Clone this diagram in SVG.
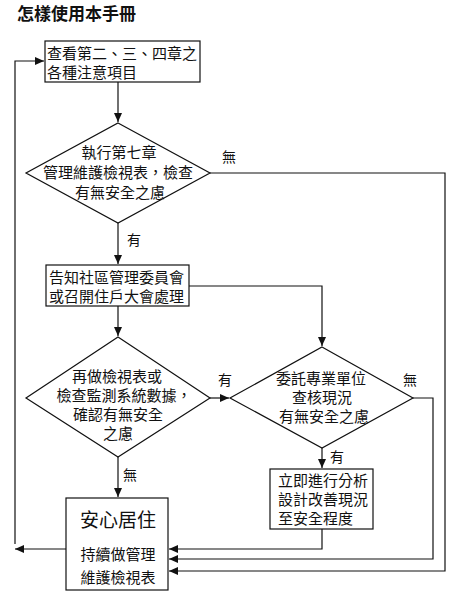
<svg xmlns="http://www.w3.org/2000/svg" width="452" height="594" viewBox="0 0 452 594">
<style>
text{font-family:"Noto Sans CJK TC","Noto Sans CJK SC",sans-serif;fill:#111;font-size:15px}
.title{font-size:17px;font-weight:bold}
.m{text-anchor:middle}
.shape{fill:#fff;stroke:#111;stroke-width:1.2}
.c{fill:none;stroke:#111;stroke-width:1.2}
.lbl{font-size:14px}
</style>
<defs>
<marker id="a" markerUnits="userSpaceOnUse" markerWidth="10" markerHeight="8" refX="9" refY="4" orient="auto">
<path d="M0,0 L9,4 L0,8 z" fill="#111"/>
</marker>
</defs>
<rect width="452" height="594" fill="#fff"/>
<text class="title" x="17" y="20">怎樣使用本手冊</text>
<g id="connectors">
<path class="c" d="M118,82 V122" marker-end="url(#a)"/>
<path class="c" d="M118,223 V264" marker-end="url(#a)"/>
<path class="c" d="M210,173 H445 V571 H169" marker-end="url(#a)"/>
<path class="c" d="M189,286 H322 V346" marker-end="url(#a)"/>
<path class="c" d="M118,306 V336" marker-end="url(#a)"/>
<path class="c" d="M210,398 H229" marker-end="url(#a)"/>
<path class="c" d="M413,398 H433 V559 H169" marker-end="url(#a)"/>
<path class="c" d="M322,448 V468" marker-end="url(#a)"/>
<path class="c" d="M322,529 V549 H169" marker-end="url(#a)"/>
<path class="c" d="M118,457 V497" marker-end="url(#a)"/>
<path class="c" d="M66,549 H15" marker-end="url(#a)"/>
<path class="c" d="M15,544 V61 H44" marker-end="url(#a)"/>
<text class="lbl" x="222" y="162">無</text>
<text class="lbl" x="127" y="245">有</text>
<text class="lbl" x="218" y="385">有</text>
<text class="lbl" x="403" y="385">無</text>
<text class="lbl" x="330" y="462">有</text>
<text class="lbl" x="123" y="480">無</text>
</g>
<g id="box1">
<rect class="shape" x="45" y="41" width="155" height="41"/>
<text x="47" y="59">查看第二、三、四章之</text>
<text x="47" y="78">各種注意項目</text>
</g>
<g id="decision1">
<polygon class="shape" points="118,123 210,173 118,223 26,173"/>
<text class="m" x="119" y="158">執行第七章</text>
<text class="m" x="118" y="178">管理維護檢視表，檢查</text>
<text class="m" x="120" y="198">有無安全之慮</text>
</g>
<g id="box2">
<rect class="shape" x="46" y="265" width="143" height="41"/>
<text x="49" y="283">告知社區管理委員會</text>
<text x="49" y="302">或召開住戶大會處理</text>
</g>
<g id="decision3">
<polygon class="shape" points="118,337 210,398 118,457 26,398"/>
<text class="m" x="117" y="382">再做檢視表或</text>
<text class="m" x="124" y="401">檢查監測系統數據，</text>
<text class="m" x="118" y="420">確認有無安全</text>
<text class="m" x="118" y="439">之慮</text>
</g>
<g id="decision2">
<polygon class="shape" points="322,347 413,398 322,448 230,398"/>
<text class="m" x="321" y="384">委託專業單位</text>
<text class="m" x="322" y="403">查核現況</text>
<text class="m" x="324" y="422">有無安全之慮</text>
</g>
<g id="box3">
<rect class="shape" x="270" y="469" width="103" height="60"/>
<text x="278" y="486">立即進行分析</text>
<text x="278" y="505">設計改善現況</text>
<text x="278" y="524">至安全程度</text>
</g>
<g id="box4">
<rect class="shape" x="66" y="498" width="102" height="92"/>
<text class="m" x="118" y="527" style="font-size:19px">安心居住</text>
<text class="m" x="118" y="560">持續做管理</text>
<text class="m" x="118" y="583">維護檢視表</text>
</g>
</svg>
